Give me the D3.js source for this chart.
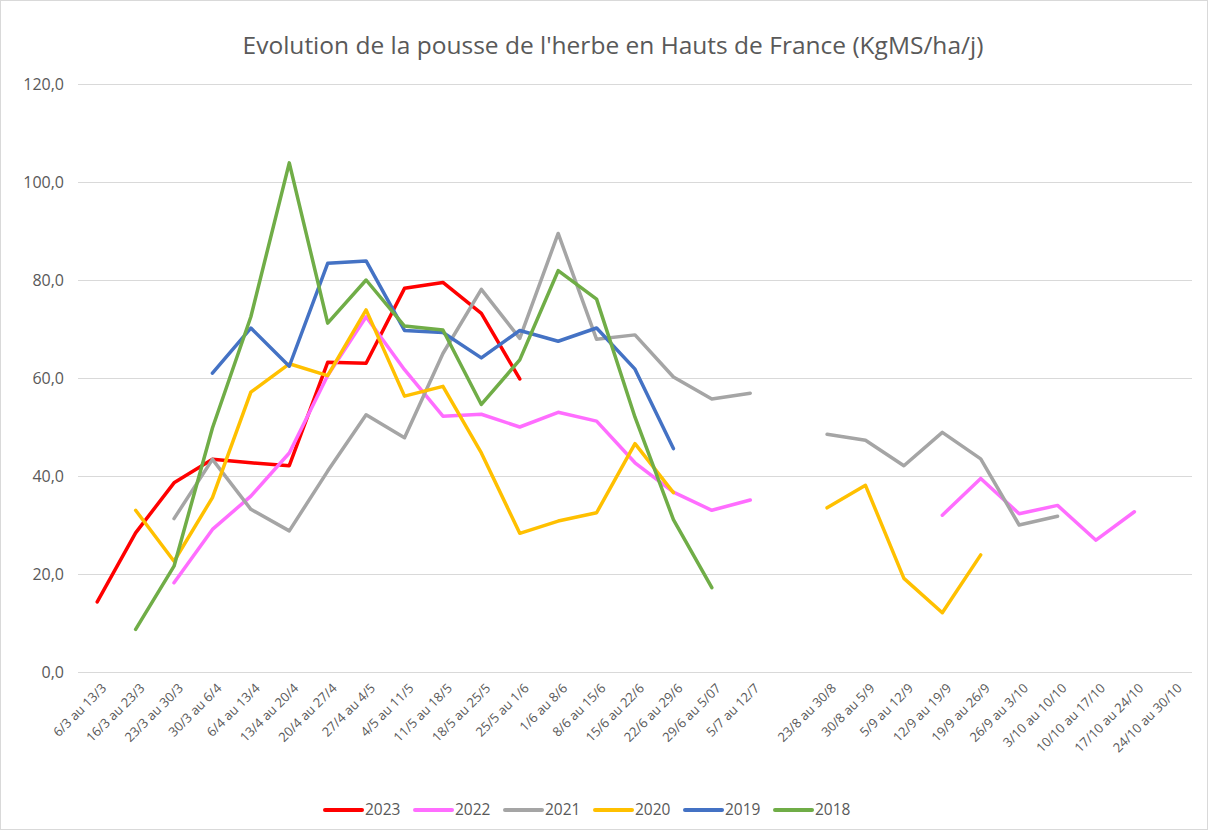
<!DOCTYPE html>
<html>
<head>
<meta charset="utf-8">
<script src="https://cdn.jsdelivr.net/npm/d3@7"></script>
<style>
  body { margin: 0; background: #fff; }
  text { font-family: "Open Sans", "Noto Sans", sans-serif; fill: #595959; }
</style>
</head>
<body>
<svg id="chart" width="1208" height="830"></svg>
<script>
// week labels (index 18 is an empty slot in the original sheet)
const categories = [
  "6/3 au 13/3", "16/3 au 23/3", "23/3 au 30/3", "30/3 au 6/4", "6/4 au 13/4",
  "13/4 au 20/4", "20/4 au 27/4", "27/4 au 4/5", "4/5 au 11/5", "11/5 au 18/5",
  "18/5 au 25/5", "25/5 au 1/6", "1/6 au 8/6", "8/6 au 15/6", "15/6 au 22/6",
  "22/6 au 29/6", "29/6 au 5/07", "5/7 au 12/7", "",
  "23/8 au 30/8", "30/8 au 5/9", "5/9 au 12/9", "12/9 au 19/9", "19/9 au 26/9",
  "26/9 au 3/10", "3/10 au 10/10", "10/10 au 17/10", "17/10 au 24/10", "24/10 au 30/10"
];

const _ = null;
const y2023 = [14.3, 28.4, 38.6, 43.4, 42.7, 42.1, 63.2, 63.0, 78.3, 79.5, 73.2, 59.8, _, _, _, _, _, _, _, _, _, _, _, _, _, _, _, _, _];
const y2022 = [_, _, 18.2, 29.1, 35.9, 44.7, 60.5, 72.5, 61.7, 52.2, 52.6, 50.0, 53.0, 51.2, 42.7, 36.7, 33.0, 35.1, _, _, _, _, 32.0, 39.5, 32.3, 34.0, 26.9, 32.7, _];
const y2021 = [_, _, 31.3, 43.4, 33.2, 28.8, 41.0, 52.5, 47.8, 65.0, 78.1, 68.1, 89.5, 67.9, 68.8, 60.2, 55.7, 56.9, _, 48.5, 47.3, 42.1, 48.9, 43.5, 30.0, 31.8, _, _, _];
const y2020 = [_, 33.0, 22.6, 35.6, 57.1, 62.9, 60.5, 73.9, 56.3, 58.3, 44.7, 28.3, 30.8, 32.5, 46.6, 36.6, _, _, _, 33.5, 38.1, 19.1, 12.1, 23.9, _, _, _, _, _];
const y2019 = [_, _, _, 61.0, 70.2, 62.4, 83.4, 83.9, 69.7, 69.3, 64.1, 69.7, 67.5, 70.2, 61.8, 45.6, _, _, _, _, _, _, _, _, _, _, _, _, _];
const y2018 = [_, 8.7, 21.6, 49.8, 72.5, 103.9, 71.2, 80.0, 70.6, 69.8, 54.6, 63.7, 81.9, 76.1, 52.0, 31.1, 17.2, _, _, _, _, _, _, _, _, _, _, _, _];

const yTicks = [0, 20, 40, 60, 80, 100, 120];

const series = [
  { name: "2023", values: y2023, color: "#ff0000" },
  { name: "2022", values: y2022, color: "#ff6dff" },
  { name: "2021", values: y2021, color: "#a5a5a5" },
  { name: "2020", values: y2020, color: "#ffc000" },
  { name: "2019", values: y2019, color: "#4472c4" },
  { name: "2018", values: y2018, color: "#70ad47" }
];

const svg = d3.select("#chart");
const margin = { left: 78, right: 16, top: 84, bottom: 158 };
const W = 1208, H = 830;

// outer frame
svg.append("rect")
  .attr("x", 0.5).attr("y", 0.5)
  .attr("width", W - 1).attr("height", H - 1)
  .attr("fill", "#fff").attr("stroke", "#d9d9d9");

const x = d3.scaleBand()
  .domain(d3.range(categories.length))
  .range([margin.left, W - margin.right]);

const y = d3.scaleLinear()
  .domain([0, 120])
  .range([H - margin.bottom, margin.top]);

// gridlines + y labels
const yAxis = svg.append("g")
  .attr("transform", `translate(${margin.left},0)`)
  .call(d3.axisLeft(y).tickValues(yTicks)
    .tickSize(-(W - margin.left - margin.right))
    .tickFormat(d => d3.format(".1f")(d).replace(".", ",")));
yAxis.select(".domain").remove();
yAxis.selectAll(".tick line").attr("stroke", "#d9d9d9").attr("stroke-width", 1);
yAxis.selectAll(".tick text")
  .attr("x", -14)
  .style("font-size", "16px");

// x axis labels
const xAxis = svg.append("g")
  .attr("transform", `translate(0,${H - margin.bottom})`)
  .call(d3.axisBottom(x).tickSize(0).tickFormat(i => categories[i]));
xAxis.select(".domain").remove();
xAxis.selectAll(".tick text")
  .attr("text-anchor", "end")
  .attr("dy", 0)
  .attr("y", 0)
  .attr("transform", "translate(10,17) rotate(-45)")
  .style("font-size", "13px");

// lines
const line = d3.line()
  .defined(d => d != null)
  .x((d, i) => x(i) + x.bandwidth() / 2)
  .y(d => y(d));

svg.append("g").selectAll("path")
  .data(series)
  .join("path")
  .attr("fill", "none")
  .attr("stroke", d => d.color)
  .attr("stroke-width", 3.5)
  .attr("stroke-linejoin", "round")
  .attr("stroke-linecap", "round")
  .attr("d", d => line(d.values));

// title
svg.append("text")
  .attr("x", 613).attr("y", 54)
  .attr("text-anchor", "middle")
  .style("font-size", "24.5px")
  .text("Evolution de la pousse de l'herbe en Hauts de France (KgMS/ha/j)");

// legend
const legend = svg.append("g").attr("transform", "translate(325,810)");
const item = legend.selectAll("g")
  .data(series)
  .join("g")
  .attr("transform", (d, i) => `translate(${i * 90},0)`);
item.append("line")
  .attr("x1", 0).attr("x2", 37)
  .attr("stroke", d => d.color)
  .attr("stroke-width", 4)
  .attr("stroke-linecap", "round");
item.append("text")
  .attr("x", 40).attr("dy", "0.35em")
  .style("font-size", "15.5px")
  .text(d => d.name);
</script>
</body>
</html>
